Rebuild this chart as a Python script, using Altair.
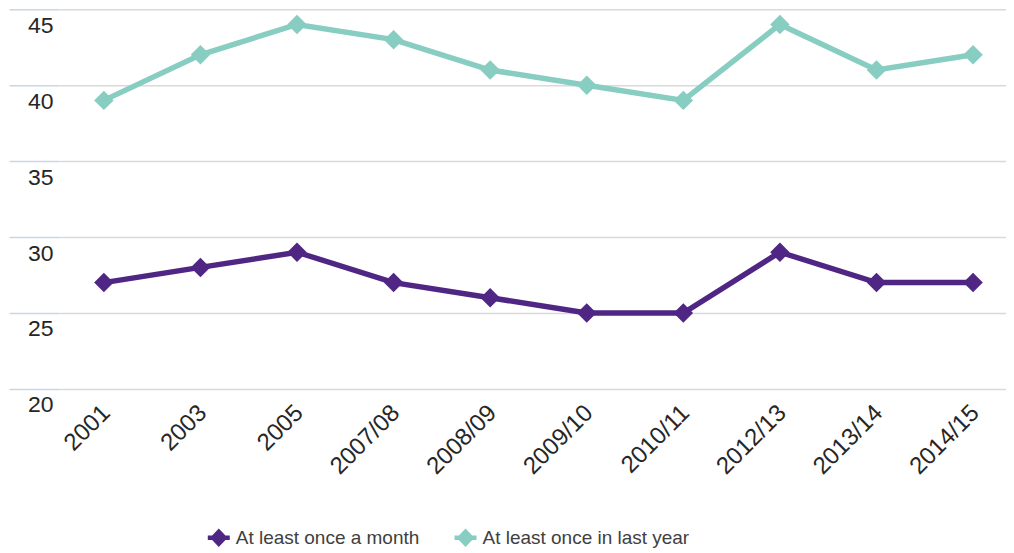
import altair as alt
import pandas as pd

years = ["2001", "2003", "2005", "2007/08", "2008/09", "2009/10", "2010/11", "2012/13", "2013/14", "2014/15"]
monthly = [27, 28, 29, 27, 26, 25, 25, 29, 27, 27]
yearly = [39, 42, 44, 43, 41, 40, 39, 44, 41, 42]
series = ["At least once a month", "At least once in last year"]
colors = ["#4f2683", "#88cdc1"]

rows = []
for y, v in zip(years, monthly):
    rows.append({"year": y, "value": v, "series": series[0]})
for y, v in zip(years, yearly):
    rows.append({"year": y, "value": v, "series": series[1]})
df = pd.DataFrame(rows)

font = "Liberation Sans"
sym = "M-0.8,0L0,-0.85L0.8,0L0,0.85Z M-1,-0.2L1,-0.2L1,0.2L-1,0.2Z"

x = alt.X("year:N", sort=years, title=None,
          scale=alt.Scale(type="point", padding=0.403, align=0.577),
          axis=alt.Axis(labelAngle=-45, labelAlign="right", labelBaseline="middle",
                        ticks=False, domain=False, labelPadding=20, labelOffset=2,
                        labelFontSize=24, labelColor="#262626", labelFont=font, grid=False))
y = alt.Y("value:Q", title=None,
          scale=alt.Scale(domain=[20, 45], nice=False, zero=False),
          axis=alt.Axis(values=[20, 25, 30, 35, 40, 45], domain=False, tickSize=50,
                        tickColor="#c7d6ea", tickWidth=1.5, labelPadding=-44, labelOffset=16,
                        labelFontSize=23, labelColor="#262626", labelFont=font,
                        gridColor="#d9d9d9", gridWidth=1.5))
color = alt.Color("series:N", sort=series, title=None,
                  scale=alt.Scale(domain=series, range=colors),
                  legend=alt.Legend(orient="none", legendX=149, legendY=518,
                                    direction="horizontal", symbolType=sym,
                                    symbolSize=484, labelFontSize=19, labelFont=font,
                                    labelColor="#404040", columnPadding=35, labelLimit=0,
                                    labelOffset=6, symbolStrokeWidth=0))

base = alt.Chart(df)
lines = base.mark_line(strokeWidth=5.5).encode(x=x, y=y, color=color)
points = base.mark_point(shape="diamond", filled=True, size=380, opacity=1).encode(x=x, y=y, color=color)

chart = (alt.layer(lines, points)
         .properties(width=948, height=380, padding=0)
         .configure_view(stroke=None))
chart.save("out.html", embed_options={"renderer": "svg", "actions": False})
